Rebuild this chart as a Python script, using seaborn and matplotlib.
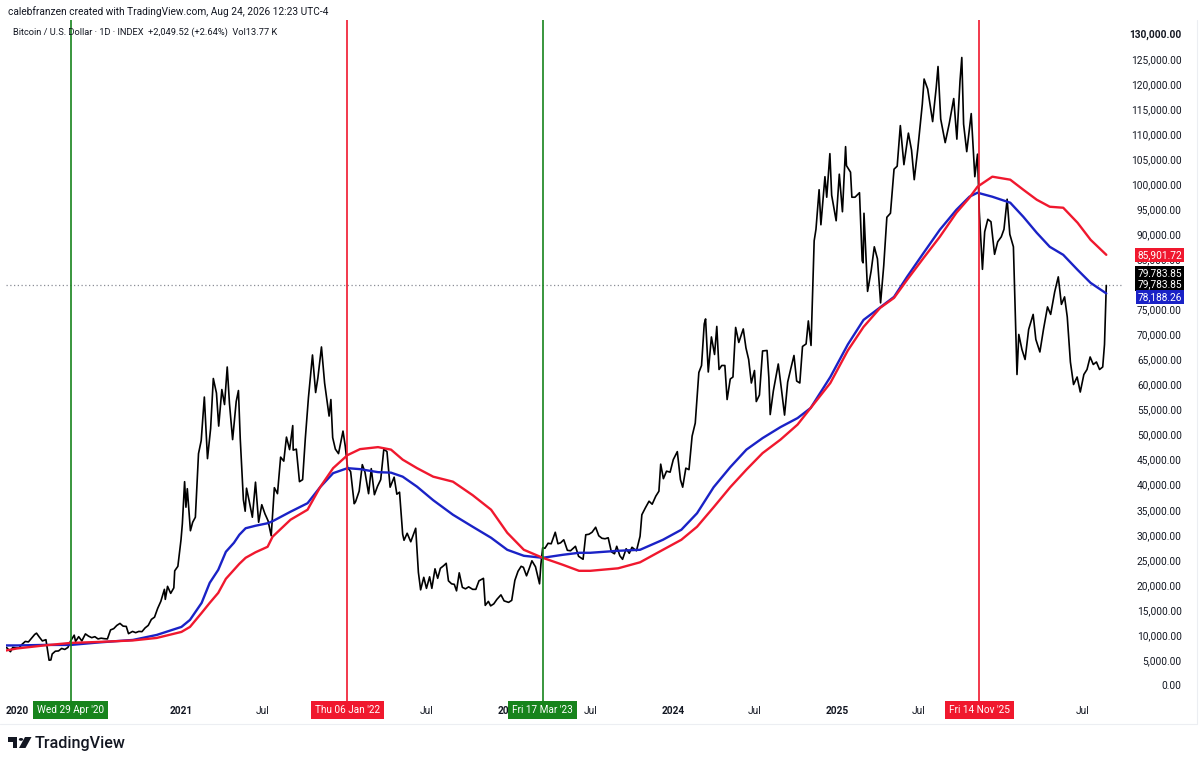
import matplotlib
matplotlib.use('Agg')
import matplotlib.pyplot as plt
import matplotlib.dates as mdates
from matplotlib.patches import Polygon, Circle, Rectangle
from matplotlib.lines import Line2D
import seaborn as sns
import pandas as pd

# BTCUSD daily close (about one point per week)
dates_2019 = ['2019-12-01', '2019-12-08', '2019-12-17', '2019-12-22', '2019-12-29']
close_2019 = [7400, 7500, 6650, 7500, 7400]

dates_2020 = ['2020-01-05', '2020-01-12', '2020-01-19', '2020-01-26', '2020-02-02', '2020-02-09',
              '2020-02-13', '2020-02-19', '2020-02-26', '2020-03-05', '2020-03-12', '2020-03-16',
              '2020-03-19', '2020-03-26', '2020-04-02', '2020-04-09', '2020-04-16', '2020-04-23',
              '2020-04-29', '2020-05-07', '2020-05-10', '2020-05-17', '2020-05-24', '2020-06-01',
              '2020-06-08', '2020-06-15', '2020-06-22', '2020-06-29', '2020-07-06', '2020-07-13',
              '2020-07-20', '2020-07-27', '2020-08-03', '2020-08-10', '2020-08-17', '2020-08-24',
              '2020-08-31', '2020-09-05', '2020-09-14', '2020-09-21', '2020-09-28', '2020-10-05',
              '2020-10-12', '2020-10-19', '2020-10-26', '2020-11-02', '2020-11-09', '2020-11-16',
              '2020-11-24', '2020-11-26', '2020-12-01', '2020-12-08', '2020-12-15', '2020-12-17',
              '2020-12-24', '2020-12-31']
close_2020 = [7400, 8150, 8700, 8600, 9350, 10100,
              10350, 9600, 8800, 9050, 4950, 5000,
              6200, 6750, 6800, 7300, 7100, 7500,
              8800, 9950, 8700, 9650, 8800, 10200,
              9750, 9450, 9650, 9200, 9350, 9250,
              9200, 11000, 11250, 11900, 12300, 11750,
              11700, 10250, 10700, 10450, 10700, 10650,
              11400, 11900, 13100, 13550, 15300, 16700,
              19100, 17100, 19700, 18300, 19400, 22800,
              23700, 29000]

dates_2021 = ['2021-01-03', '2021-01-08', '2021-01-11', '2021-01-14', '2021-01-21', '2021-01-26',
              '2021-02-01', '2021-02-08', '2021-02-14', '2021-02-21', '2021-02-28', '2021-03-07',
              '2021-03-13', '2021-03-20', '2021-03-25', '2021-04-01', '2021-04-07', '2021-04-13',
              '2021-04-18', '2021-04-25', '2021-05-03', '2021-05-08', '2021-05-12', '2021-05-19',
              '2021-05-23', '2021-05-26', '2021-06-01', '2021-06-08', '2021-06-15', '2021-06-22',
              '2021-06-29', '2021-07-06', '2021-07-13', '2021-07-20', '2021-07-27', '2021-08-03',
              '2021-08-10', '2021-08-17', '2021-08-23', '2021-08-30', '2021-09-06', '2021-09-07',
              '2021-09-14', '2021-09-21', '2021-09-28', '2021-10-04', '2021-10-11', '2021-10-20',
              '2021-10-27', '2021-11-01', '2021-11-09', '2021-11-16', '2021-11-22', '2021-11-26',
              '2021-11-30', '2021-12-04', '2021-12-10', '2021-12-17', '2021-12-27']
close_2021 = [32200, 40600, 35500, 39200, 30800, 32500,
              33500, 46200, 48800, 57500, 45200, 51200,
              61200, 58300, 51700, 59000, 56000, 63500,
              56200, 49000, 56600, 58800, 49200, 37000,
              34700, 39300, 36700, 33500, 40500, 32500,
              36000, 34200, 32800, 29800, 39400, 38200,
              45500, 44700, 49500, 47000, 51800, 46900,
              47100, 40600, 41000, 49200, 57400, 65900,
              58400, 61300, 67500, 60300, 56300, 53700,
              57000, 49400, 47100, 46200, 50700]

dates_2022 = ['2022-01-01', '2022-01-06', '2022-01-13', '2022-01-21', '2022-01-24', '2022-02-01',
              '2022-02-08', '2022-02-14', '2022-02-22', '2022-02-28', '2022-03-07', '2022-03-14',
              '2022-03-21', '2022-03-28', '2022-04-04', '2022-04-11', '2022-04-20', '2022-04-26',
              '2022-05-02', '2022-05-09', '2022-05-12', '2022-05-19', '2022-05-27', '2022-06-01',
              '2022-06-07', '2022-06-13', '2022-06-18', '2022-06-25', '2022-07-01', '2022-07-08',
              '2022-07-13', '2022-07-20', '2022-07-26', '2022-08-01', '2022-08-08', '2022-08-14',
              '2022-08-19', '2022-08-26', '2022-09-01', '2022-09-06', '2022-09-12', '2022-09-19',
              '2022-09-26', '2022-10-03', '2022-10-12', '2022-10-19', '2022-10-26', '2022-11-05',
              '2022-11-09', '2022-11-16', '2022-11-21', '2022-11-28', '2022-12-05', '2022-12-14',
              '2022-12-21', '2022-12-31']
close_2022 = [47700, 43500, 42600, 36200, 36600, 38700,
              44000, 42500, 38200, 43200, 38000, 39700,
              41000, 47100, 46600, 39500, 41500, 38100,
              38500, 30100, 28900, 30300, 28600, 29800,
              31300, 22500, 19000, 21500, 19300, 21600,
              19300, 23200, 21300, 23300, 23800, 24300,
              20800, 20200, 20100, 18800, 22400, 19500,
              19200, 19600, 19100, 19100, 20800, 21300,
              15900, 16700, 15800, 16200, 17100, 18000,
              16800, 16500]

dates_2023 = ['2023-01-07', '2023-01-14', '2023-01-21', '2023-01-28', '2023-02-02', '2023-02-09',
              '2023-02-16', '2023-02-21', '2023-03-01', '2023-03-10', '2023-03-13', '2023-03-17',
              '2023-03-22', '2023-03-29', '2023-04-05', '2023-04-14', '2023-04-20', '2023-04-26',
              '2023-05-03', '2023-05-11', '2023-05-18', '2023-05-29', '2023-06-05', '2023-06-15',
              '2023-06-21', '2023-06-28', '2023-07-05', '2023-07-13', '2023-07-20', '2023-07-27',
              '2023-08-03', '2023-08-10', '2023-08-17', '2023-08-24', '2023-08-29', '2023-09-05',
              '2023-09-11', '2023-09-19', '2023-09-26', '2023-10-02', '2023-10-12', '2023-10-20',
              '2023-10-24', '2023-11-01', '2023-11-09', '2023-11-16', '2023-11-24', '2023-12-01',
              '2023-12-05', '2023-12-11', '2023-12-18', '2023-12-26']
close_2023 = [16900, 20900, 22700, 23700, 23500, 21800,
              23500, 24800, 23600, 20200, 24100, 27400,
              27300, 28300, 28200, 30500, 28200, 28400,
              29000, 26900, 26800, 27700, 25700, 25100,
              30000, 30100, 30500, 31500, 29800, 29300,
              29200, 29400, 26600, 26200, 27700, 25800,
              25100, 27200, 26300, 27500, 26800, 29700,
              34000, 35400, 36700, 36100, 37700, 38700,
              44100, 41200, 42700, 42500]

dates_2024 = ['2024-01-02', '2024-01-11', '2024-01-18', '2024-01-23', '2024-01-30', '2024-02-06',
              '2024-02-13', '2024-02-20', '2024-02-28', '2024-03-05', '2024-03-11', '2024-03-14',
              '2024-03-20', '2024-03-27', '2024-04-03', '2024-04-08', '2024-04-13', '2024-04-19',
              '2024-04-26', '2024-05-01', '2024-05-08', '2024-05-14', '2024-05-20', '2024-05-27',
              '2024-06-06', '2024-06-12', '2024-06-18', '2024-06-24', '2024-07-01', '2024-07-05',
              '2024-07-12', '2024-07-19', '2024-07-29', '2024-08-02', '2024-08-05', '2024-08-12',
              '2024-08-23', '2024-08-30', '2024-09-06', '2024-09-13', '2024-09-20', '2024-09-27',
              '2024-10-03', '2024-10-10', '2024-10-16', '2024-10-24', '2024-10-29', '2024-11-04',
              '2024-11-11', '2024-11-15', '2024-11-22', '2024-11-26', '2024-12-05', '2024-12-09',
              '2024-12-16', '2024-12-20', '2024-12-30']
close_2024 = [45000, 46600, 41000, 39500, 43300, 43000,
              49700, 52300, 62400, 63800, 72100, 73100,
              62500, 69500, 66000, 71600, 63000, 63800,
              63800, 57000, 61100, 61500, 71400, 68400,
              71100, 67300, 65000, 60300, 62800, 56600,
              57900, 66700, 66800, 61400, 54000, 58700,
              64100, 59100, 53900, 60500, 63200, 65800,
              60700, 60300, 67600, 68100, 72700, 67800,
              88700, 91000, 98900, 91900, 101500, 97400,
              106100, 97800, 92700]

dates_2025 = ['2025-01-06', '2025-01-13', '2025-01-20', '2025-01-22', '2025-01-31', '2025-02-03',
              '2025-02-10', '2025-02-20', '2025-02-26', '2025-02-28', '2025-03-02', '2025-03-10',
              '2025-03-18', '2025-03-25', '2025-04-01', '2025-04-08', '2025-04-15', '2025-04-22',
              '2025-04-30', '2025-05-08', '2025-05-15', '2025-05-22', '2025-05-30', '2025-06-09',
              '2025-06-16', '2025-06-22', '2025-06-30', '2025-07-10', '2025-07-14', '2025-07-22',
              '2025-08-02', '2025-08-10', '2025-08-14', '2025-08-20', '2025-08-30', '2025-09-08',
              '2025-09-18', '2025-09-25', '2025-10-02', '2025-10-06', '2025-10-10', '2025-10-17',
              '2025-10-27', '2025-11-04', '2025-11-10', '2025-11-14', '2025-11-21', '2025-11-26',
              '2025-12-03', '2025-12-10', '2025-12-18', '2025-12-25']
close_2025 = [102000, 94500, 107500, 103700, 102400, 97400,
              97400, 98300, 84700, 84300, 94200, 78600,
              82700, 87500, 85100, 76300, 83700, 93400,
              94200, 103000, 103600, 111700, 103900, 110200,
              106800, 100900, 107100, 116000, 121000, 119000,
              112500, 119300, 123500, 113000, 108300, 112100,
              117100, 109000, 120600, 125300, 112000, 106500,
              114100, 101500, 106000, 94500, 83000, 90500,
              93000, 92500, 86000, 88500]

dates_2026 = ['2026-01-02', '2026-01-08', '2026-01-15', '2026-01-21', '2026-01-29', '2026-02-06',
              '2026-02-10', '2026-02-17', '2026-02-24', '2026-03-04', '2026-03-14', '2026-03-20',
              '2026-03-29', '2026-04-06', '2026-04-15', '2026-04-22', '2026-05-01', '2026-05-09',
              '2026-05-16', '2026-05-23', '2026-05-29', '2026-06-05', '2026-06-12', '2026-06-20',
              '2026-06-27', '2026-07-05', '2026-07-12', '2026-07-19', '2026-07-26', '2026-08-02',
              '2026-08-09', '2026-08-16', '2026-08-20', '2026-08-24']
close_2026 = [89500, 91000, 97000, 90000, 87500, 62000,
              70000, 67000, 65000, 71000, 74000, 69000,
              66500, 71000, 75500, 74000, 78500, 81500,
              76000, 77500, 73500, 64500, 60000, 61500,
              58500, 62000, 63000, 65500, 64000, 64500,
              63000, 63500, 68000, 79783.85]

# the two moving averages (blue and red)
ma_dates = ['2019-12-01', '2020-01-01', '2020-03-01', '2020-04-29', '2020-07-01', '2020-09-15',
            '2020-11-07', '2021-01-01', '2021-01-20', '2021-02-15', '2021-03-05', '2021-03-24',
            '2021-04-10', '2021-04-28', '2021-05-10', '2021-05-24', '2021-06-15', '2021-07-12',
            '2021-07-23', '2021-09-01', '2021-10-09', '2021-11-06', '2021-12-05',
            '2022-01-06', '2022-02-03', '2022-03-15', '2022-04-13', '2022-05-09', '2022-06-10',
            '2022-07-16', '2022-08-29', '2022-10-12', '2022-11-22', '2022-12-28', '2023-02-03',
            '2023-03-17', '2023-05-01', '2023-06-06', '2023-07-01', '2023-09-01', '2023-10-20',
            '2023-12-10', '2024-01-20', '2024-02-24', '2024-04-01', '2024-05-08', '2024-06-13',
            '2024-07-19', '2024-08-28', '2024-10-05', '2024-11-03', '2024-12-17', '2025-01-25',
            '2025-03-01', '2025-04-07', '2025-05-08', '2025-06-06', '2025-07-13', '2025-08-18',
            '2025-09-24', '2025-10-23', '2025-11-10', '2025-12-13', '2026-01-22', '2026-02-20',
            '2026-03-22', '2026-04-20', '2026-05-20', '2026-06-21', '2026-07-20', '2026-08-24']
ma_blue = [7900, 7900, 8000, 8000, 8500, 9000,
           10000, 11600, 13000, 16400, 20400, 23000,
           26600, 28400, 30000, 31300, 31800, 32300,
           32700, 34600, 36300, 39500, 42300,
           43300, 43100, 42500, 42400, 41600, 39600,
           36900, 34000, 31600, 29400, 27000, 25800,
           25400, 26000, 26400, 26400, 26800, 27000,
           29000, 31000, 34300, 39500, 43500, 47000,
           49300, 51500, 53300, 55300, 61500, 68000,
           72900, 75400, 77500, 81500, 86300, 90900,
           94900, 97500, 98300, 97500, 96300, 93500,
           90300, 87500, 85900, 82900, 80300, 78188.26]
ma_red = [6800, 7300, 7900, 8400, 8600, 8900,
          9400, 10600, 11600, 14400, 16400, 18400,
          21200, 23000, 24200, 25400, 26500, 27600,
          29600, 33000, 35000, 39500, 43300,
          45900, 47100, 47500, 47000, 45000, 43300,
          41600, 40600, 37900, 35000, 30400, 27000,
          25400, 24000, 22800, 22800, 23300, 24500,
          27000, 29000, 31600, 35500, 39500, 43000,
          46300, 49000, 52000, 55300, 60300, 66800,
          71500, 75300, 77300, 80900, 85300, 89500,
          94300, 97300, 99500, 101500, 100900, 98900,
          96900, 95500, 95300, 92300, 88900, 85901.72]

marker_dates = ['2020-04-29', '2022-01-06', '2023-03-17', '2025-11-14']
marker_labels = ["Wed 29 Apr '20", "Thu 06 Jan '22", "Fri 17 Mar '23", "Fri 14 Nov '25"]
marker_kinds = ['buy', 'sell', 'buy', 'sell']

# time-scale labels that are not hidden under a marker label
time_ticks = ['2020-01-01', '2021-01-01', '2021-07-01', '2022-07-01', '2023-01-01', '2023-07-01',
              '2024-01-01', '2024-07-01', '2025-01-01', '2025-07-01', '2026-07-01']
time_labels = ['2020', '2021', 'Jul', 'Jul', '2023', 'Jul', '2024', 'Jul', '2025', 'Jul', 'Jul']
price_ticks = list(range(0, 130001, 5000))

price_dates = dates_2019 + dates_2020 + dates_2021 + dates_2022 + dates_2023 + dates_2024 + dates_2025 + dates_2026
price_close = close_2019 + close_2020 + close_2021 + close_2022 + close_2023 + close_2024 + close_2025 + close_2026
assert len(price_dates) == len(price_close)
assert len(ma_dates) == len(ma_blue) == len(ma_red)

BLUE = '#1a22c6'
RED = '#f0182e'
GREEN = '#17841c'
INK = '#131722'

sns.set_style('white')
plt.rcParams['font.family'] = ['Roboto', 'DejaVu Sans']

W, H = 1200, 765
fig = plt.figure(figsize=(W / 100, H / 100), dpi=100)
# plot area: x 6..1122 px, y 20..701 px (from top)
ax = fig.add_axes([6 / W, 1 - 701 / H, 1116 / W, 681 / H])

price = pd.DataFrame({'date': pd.to_datetime(price_dates), 'close': price_close})
ma = pd.DataFrame({'date': pd.to_datetime(ma_dates), 'blue': ma_blue, 'red': ma_red})

sns.lineplot(data=price, x='date', y='close', ax=ax, color='black', lw=1.2,
             estimator=None, sort=False, zorder=2)
sns.lineplot(data=ma, x='date', y='blue', ax=ax, color=BLUE, lw=1.7, zorder=3)
sns.lineplot(data=ma, x='date', y='red', ax=ax, color=RED, lw=1.7, zorder=3)

last = price_close[-1]
ax.axhline(last, color='#8a8d96', ls=(0, (1, 2)), lw=0.9, zorder=1)

for d, lab, kind in zip(marker_dates, marker_labels, marker_kinds):
    c = GREEN if kind == 'buy' else RED
    xd = mdates.date2num(pd.Timestamp(d))
    ax.axvline(xd, color=c, lw=1.2, zorder=4)
    ax.annotate(lab, xy=(xd, 0), xycoords=ax.get_xaxis_transform(),
                xytext=(0, -9), textcoords='offset pixels', ha='center', va='center',
                fontsize=7.2, color='white', annotation_clip=False, zorder=6,
                bbox=dict(boxstyle='square,pad=0.42', fc=c, ec='none'))

ax.set_xlim(pd.Timestamp('2019-12-07'), pd.Timestamp('2026-09-28'))
ax.set_ylim((685 - 701) * 5000 / 25.04, (685 - 20) * 5000 / 25.04)

ax.set_xticks(pd.to_datetime(time_ticks))
ax.set_xticklabels(time_labels)
ax.tick_params(axis='x', length=0, pad=3.5, labelsize=7.3, labelcolor=INK)
for lbl in ax.get_xticklabels():
    if lbl.get_text() != 'Jul':
        lbl.set_fontweight('bold')

ax.yaxis.tick_right()
ax.set_yticks(price_ticks)
ax.set_yticklabels([f'{v:,.2f}' for v in price_ticks])
ax.tick_params(axis='y', length=0, pad=43, labelsize=7.3, labelcolor=INK)
plt.setp(ax.get_yticklabels(), ha='right')
ax.get_yticklabels()[-1].set_fontweight('bold')
ax.set_xlabel('')
ax.set_ylabel('')
for s in ax.spines.values():
    s.set_visible(False)

# last-value badges on the price scale
badges = [(ma_red[-1], RED, 0), (last, 'black', 12), (last, 'black', 1), (ma_blue[-1], BLUE, -4)]
for val, c, dy in badges:
    ax.annotate(f'{val:,.2f}', xy=(1, val), xycoords=ax.get_yaxis_transform(),
                xytext=(60, dy), textcoords='offset pixels', ha='right', va='center',
                fontsize=7.3, color='white', annotation_clip=False, zorder=7,
                bbox=dict(boxstyle='square,pad=0.2', fc=c, ec='none'))

# header texts
fig.text(8 / W, 1 - 12 / H, 'calebfranzen created with TradingView.com, Aug 24, 2026 12:23 UTC-4',
         fontsize=7.3, color=INK, va='center')
fig.text(13 / W, 1 - 32 / H, 'Bitcoin / U.S. Dollar · 1D · INDEX  +2,049.52 (+2.64%)  Vol13.77 K',
         fontsize=6.7, color=INK, va='center')

# faint pane borders
fig.add_artist(Line2D([0, 1197 / W], [1 - 724 / H] * 2, color='#eceef2', lw=0.8))
fig.add_artist(Line2D([1197 / W] * 2, [1 - 20 / H, 1 - 724 / H], color='#eceef2', lw=0.8))


# TradingView logo
def px(x, y):
    return (x / W, 1 - y / H)


logo = [Rectangle(px(8, 741.5), 9 / W, 4.5 / H),
        Rectangle(px(12.5, 748), 4.5 / W, 11 / H),
        Circle(px(21, 739.4), 2.2 / W),
        Polygon([px(25, 737), px(31.5, 737), px(25.5, 748), px(19, 748)])]
for p in logo:
    p.set_transform(fig.transFigure)
    p.set_facecolor(INK)
    p.set_edgecolor('none')
    fig.add_artist(p)
fig.text(35 / W, 1 - 748 / H, 'TradingView', fontsize=11.6, fontweight='medium', color=INK,
         va='baseline')

fig.savefig('out.png', dpi=100, facecolor='white')
